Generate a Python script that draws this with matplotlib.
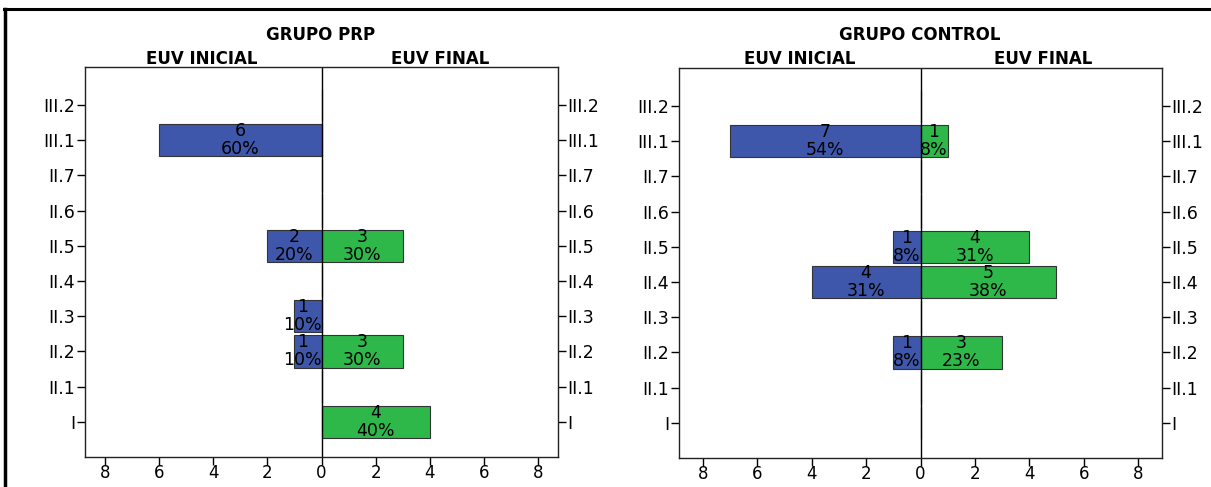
import matplotlib
matplotlib.use("Agg")
import matplotlib.pyplot as plt
from matplotlib.lines import Line2D

plt.rcParams['font.family'] = ['DejaVu Sans']

categories = ["I", "II.1", "II.2", "II.3", "II.4", "II.5", "II.6", "II.7", "III.1", "III.2"]

prp_inicial = [0, 0, 1, 1, 0, 2, 0, 0, 6, 0]
prp_inicial_pct = [0, 0, 10, 10, 0, 20, 0, 0, 60, 0]
prp_final = [4, 0, 3, 0, 0, 3, 0, 0, 0, 0]
prp_final_pct = [40, 0, 30, 0, 0, 30, 0, 0, 0, 0]

ctrl_inicial = [0, 0, 1, 0, 4, 1, 0, 0, 7, 0]
ctrl_inicial_pct = [0, 0, 8, 0, 31, 8, 0, 0, 54, 0]
ctrl_final = [0, 0, 3, 0, 5, 4, 0, 0, 1, 0]
ctrl_final_pct = [0, 0, 23, 0, 38, 31, 0, 0, 8, 0]

xticks = [-8, -6, -4, -2, 0, 2, 4, 6, 8]

BLUE = "#3F57AA"
GREEN = "#2EB84A"

W, H = 1211, 487
fig = plt.figure(figsize=(W / 100, H / 100), dpi=100)


def fx(px):
    return px / W


def fy(py):
    return 1 - py / H


LBL = 12.5


def panel(rect, lim, ini, ini_pct, fin, fin_pct, title, title_x, ini_x, fin_x):
    ax = fig.add_axes(rect)
    ypos = list(range(len(categories)))
    ax.barh(ypos, [-v for v in ini], height=0.92, color=BLUE, edgecolor="#333333", linewidth=0.8)
    ax.barh(ypos, fin, height=0.92, color=GREEN, edgecolor="#333333", linewidth=0.8)
    for y, v, p in zip(ypos, ini, ini_pct):
        if v:
            lab = f"{v}\n{p}%"
            if v == 1 and p >= 10:
                ax.text(0, y, lab, ha="right", va="center", fontsize=LBL,
                        linespacing=1.0, multialignment="center")
            else:
                ax.text(-v / 2, y, lab, ha="center", va="center", fontsize=LBL,
                        linespacing=1.0)
    for y, v, p in zip(ypos, fin, fin_pct):
        if v:
            ax.text(v / 2, y, f"{v}\n{p}%", ha="center", va="center", fontsize=LBL,
                    linespacing=1.0)
    ax.axvline(0, color="black", linewidth=1.0)
    ax.set_xlim(-lim, lim)
    ax.set_ylim(-1.0, 10.08)
    ax.set_yticks(ypos)
    ax.set_yticklabels(categories, fontsize=12.5)
    ax.tick_params(axis="y", which="both", left=True, right=True, labelleft=True,
                   labelright=True, length=6, width=1, pad=1)
    ax.set_xticks(xticks)
    ax.set_xticklabels([str(abs(t)) for t in xticks], fontsize=12)
    ax.tick_params(axis="x", length=6, width=1, pad=-1)
    for s in ax.spines.values():
        s.set_linewidth(1.0)
        s.set_color("#222222")
    fig.text(fx(title_x), fy(35), title, ha="center", va="center",
             fontsize=12, fontweight="bold")
    fig.text(fx(ini_x), fy(59), "EUV INICIAL", ha="center", va="center",
             fontsize=12, fontweight="bold")
    fig.text(fx(fin_x), fy(59), "EUV FINAL", ha="center", va="center",
             fontsize=12, fontweight="bold")
    return ax


panel([fx(85), fy(457), fx(558) - fx(85), fy(67) - fy(457)], 8.74,
      prp_inicial, prp_inicial_pct, prp_final, prp_final_pct, "GRUPO PRP", 321, 202, 440)
panel([fx(679), fy(458), fx(1162) - fx(679), fy(68) - fy(458)], 8.88,
      ctrl_inicial, ctrl_inicial_pct, ctrl_final, ctrl_final_pct, "GRUPO CONTROL", 920, 800, 1043)

# outer frame lines
fig.add_artist(Line2D([fx(4), 1], [fy(9), fy(9)], color="black", linewidth=2.2))
fig.add_artist(Line2D([fx(4.5), fx(4.5)], [fy(9), 0], color="black", linewidth=2.5))

fig.savefig("out.png", dpi=100)
